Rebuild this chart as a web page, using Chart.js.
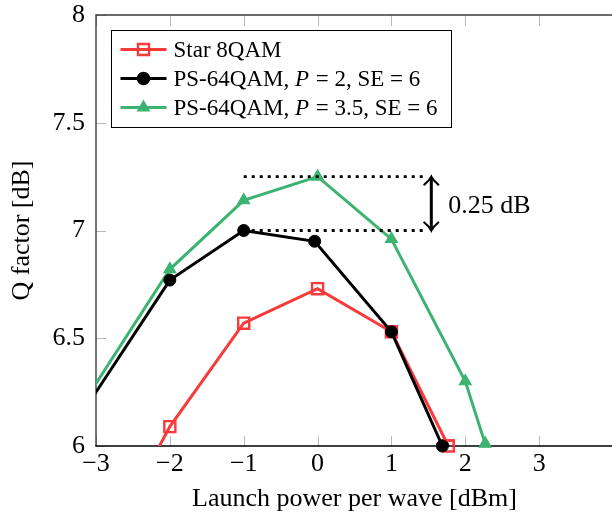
<!DOCTYPE html>
<html>
<head>
<meta charset="utf-8">
<script src="https://cdn.jsdelivr.net/npm/chart.js@4.4.1/dist/chart.umd.min.js"></script>
<style>
  html, body { margin: 0; padding: 0; background: #fff; overflow: hidden; }
  #wrap { width: 612px; height: 518px; overflow: hidden; }
  canvas { display: block; }
</style>
</head>
<body>
<div id="wrap"><canvas id="chart" width="640" height="518"></canvas></div>
<script>
// ===== DATA =====
const xTicks = [-3, -2, -1, 0, 1, 2, 3];
const yTicks = [6, 6.5, 7, 7.5, 8];

const seriesNames = ['Star 8QAM', 'PS-64QAM, P = 2, SE = 6', 'PS-64QAM, P = 3.5, SE = 6'];

const starPower = [-3, -2, -1, 0, 1, 1.77];
const starQ     = [5.45, 6.09, 6.57, 6.73, 6.53, 6.0];

const ps2Power  = [-4, -2, -1, -0.04, 1, 1.69];
const ps2Q      = [5.73, 6.77, 7.0, 6.95, 6.53, 6.0];

const ps35Power = [-4, -2, -1, 0, 1, 2, 2.27];
const ps35Q     = [5.76, 6.82, 7.14, 7.25, 6.96, 6.30, 6.01];

// peak-to-peak gap between the two PS-64QAM curves
const gapFrom = -1, gapTo = 1.47, gapArrowX = 1.54;

const SERIF = '"Liberation Serif", "DejaVu Serif", serif';
const RED   = '#f83a3a';
const BLACK = '#000000';
const GREEN = '#3cb371';
const FS = 26;

function pts(xs, ys) { return xs.map((x, i) => ({ x: x, y: ys[i] })); }

// ===== PLUGINS =====
// left/top/bottom axis lines plus pgfplots-like inward ticks
const frame = {
  id: 'frame',
  beforeDatasetsDraw(chart) {
    const { ctx, chartArea: a, scales: { x, y } } = chart;
    ctx.save();
    ctx.strokeStyle = '#b8b8b8';
    ctx.lineWidth = 1;
    ctx.beginPath();
    xTicks.forEach(v => {
      const px = Math.round(x.getPixelForValue(v)) + 0.5;
      ctx.moveTo(px, a.bottom); ctx.lineTo(px, a.bottom - 10);
      ctx.moveTo(px, a.top);    ctx.lineTo(px, a.top + 11);
    });
    yTicks.forEach(v => {
      const py = Math.round(y.getPixelForValue(v)) + 0.5;
      ctx.moveTo(a.left, py); ctx.lineTo(a.left + 10, py);
    });
    ctx.stroke();

    ctx.lineWidth = 1.4;
    ctx.strokeStyle = '#3a3a3a';
    ctx.beginPath();
    ctx.moveTo(a.left, a.bottom);
    ctx.lineTo(a.left, a.top);
    ctx.lineTo(a.right + 5, a.top);
    ctx.stroke();
    ctx.strokeStyle = '#000';
    ctx.beginPath();
    ctx.moveTo(a.left - 0.7, a.bottom);
    ctx.lineTo(a.right + 5, a.bottom);
    ctx.stroke();
    ctx.restore();
  }
};

// markers sitting on the lower axis are not clipped
const edgeMarkers = {
  id: 'edgeMarkers',
  afterDatasetsDraw(chart) {
    const a = chart.chartArea;
    const full = { left: 0, top: 0, right: chart.width, bottom: chart.height };
    const metas = chart.getSortedVisibleDatasetMetas().slice().reverse();
    metas.forEach(meta => {
      meta.data.forEach(pt => {
        if (pt.x >= a.left && pt.x <= a.right && Math.abs(pt.y - a.bottom) < 9) {
          pt.draw(chart.ctx, full);
        }
      });
    });
  }
};

// dotted peak levels with the double arrow and its label
const gapNote = {
  id: 'gapNote',
  afterDatasetsDraw(chart) {
    const { ctx, scales: { x, y } } = chart;
    const lo = Math.max(...ps2Q), hi = Math.max(...ps35Q);
    const x0 = x.getPixelForValue(gapFrom), x1 = x.getPixelForValue(gapTo);
    const yHi = y.getPixelForValue(hi), yLo = y.getPixelForValue(lo);
    const ax = x.getPixelForValue(gapArrowX);

    ctx.save();
    ctx.strokeStyle = '#000';
    ctx.lineWidth = 2.8;
    ctx.setLineDash([3, 5]);
    [yHi, yLo].forEach(py => {
      ctx.beginPath(); ctx.moveTo(x0, py); ctx.lineTo(x1, py); ctx.stroke();
    });
    ctx.setLineDash([]);

    ctx.lineWidth = 3;
    ctx.beginPath(); ctx.moveTo(ax, yHi + 1); ctx.lineTo(ax, yLo - 1); ctx.stroke();
    ctx.lineWidth = 2.2;
    ctx.lineCap = 'round';
    ctx.beginPath();
    ctx.moveTo(ax - 7, yHi + 8); ctx.quadraticCurveTo(ax - 2, yHi + 4, ax, yHi);
    ctx.quadraticCurveTo(ax + 2, yHi + 4, ax + 7, yHi + 8);
    ctx.moveTo(ax - 7, yLo - 8); ctx.quadraticCurveTo(ax - 2, yLo - 4, ax, yLo);
    ctx.quadraticCurveTo(ax + 2, yLo - 4, ax + 7, yLo - 8);
    ctx.stroke();

    ctx.fillStyle = '#000';
    ctx.font = FS + 'px ' + SERIF;
    ctx.textBaseline = 'alphabetic';
    ctx.textAlign = 'left';
    ctx.fillText((hi - lo).toFixed(2) + ' dB', ax + 17, (yHi + yLo) / 2 + 9);
    ctx.restore();
  }
};

function drawMarker(ctx, style, cx, cy, color) {
  ctx.save();
  ctx.strokeStyle = color;
  ctx.fillStyle = color;
  ctx.lineWidth = style === 'rect' ? 2.4 : 1.5;
  ctx.beginPath();
  if (style === 'rect') {
    ctx.rect(cx - 5.5, cy - 5.5, 11, 11);
    ctx.stroke();
  } else if (style === 'circle') {
    ctx.arc(cx, cy, 6, 0, Math.PI * 2);
    ctx.fill(); ctx.stroke();
  } else {
    const r = 6.5;
    ctx.moveTo(cx, cy - r);
    ctx.lineTo(cx + r * Math.cos(Math.PI / 6), cy + r / 2);
    ctx.lineTo(cx - r * Math.cos(Math.PI / 6), cy + r / 2);
    ctx.closePath();
    ctx.fill(); ctx.stroke();
  }
  ctx.restore();
}

// boxed legend, the P symbol set in italics
const boxLegend = {
  id: 'boxLegend',
  afterDraw(chart) {
    const ctx = chart.ctx;
    const bx = 111.5, by = 30.5, bw = 340, bh = 97;
    ctx.save();
    ctx.fillStyle = '#fff';
    ctx.fillRect(bx, by, bw, bh);
    ctx.strokeStyle = '#000';
    ctx.lineWidth = 1;
    ctx.strokeRect(bx, by, bw, bh);

    chart.data.datasets.forEach((ds, i) => {
      const cy = by + 19 + i * 29;
      ctx.strokeStyle = ds.borderColor;
      ctx.lineWidth = 3;
      ctx.beginPath(); ctx.moveTo(bx + 9, cy); ctx.lineTo(bx + 55, cy); ctx.stroke();
      drawMarker(ctx, ds.pointStyle, bx + 32, cy, ds.borderColor);

      let tx = bx + 62;
      ctx.fillStyle = '#000';
      ctx.textBaseline = 'middle';
      ds.label.split(/(\bP\b)/).forEach(part => {
        if (!part) return;
        ctx.font = (part === 'P' ? 'italic ' : '') + '23px ' + SERIF;
        ctx.fillText(part, tx, cy + 1);
        tx += ctx.measureText(part).width + (part === 'P' ? 1 : 0);
      });
    });
    ctx.restore();
  }
};

// ===== CHART =====
const fmtTick = v => (v < 0 ? '\u2212' + (-v) : String(v));

new Chart(document.getElementById('chart'), {
  type: 'line',
  data: {
    datasets: [
      {
        label: seriesNames[0], data: pts(starPower, starQ), order: 1,
        borderColor: RED, borderWidth: 3, tension: 0,
        pointStyle: 'rect', pointRadius: 7.8, pointBorderWidth: 2.4,
        pointBackgroundColor: 'rgba(0,0,0,0)', pointBorderColor: RED
      },
      {
        label: seriesNames[1], data: pts(ps2Power, ps2Q), order: 0,
        borderColor: BLACK, borderWidth: 3, tension: 0,
        pointStyle: 'circle', pointRadius: 6, pointBorderWidth: 1,
        pointBackgroundColor: BLACK, pointBorderColor: BLACK
      },
      {
        label: seriesNames[2], data: pts(ps35Power, ps35Q), order: 2,
        borderColor: GREEN, borderWidth: 3, tension: 0,
        pointStyle: 'triangle', pointRadius: 6.8, pointBorderWidth: 1.2,
        pointBackgroundColor: GREEN, pointBorderColor: GREEN
      }
    ]
  },
  options: {
    responsive: false,
    animation: false,
    events: [],
    layout: { padding: { top: 15, right: 27, left: 0, bottom: 0 } },
    plugins: { legend: { display: false }, tooltip: { enabled: false } },
    scales: {
      x: {
        type: 'linear', min: -3, max: 4,
        grid: { display: false, drawTicks: false },
        border: { display: false },
        afterBuildTicks: s => { s.ticks = xTicks.map(v => ({ value: v })); },
        afterFit: s => { s.height = 72; s.paddingLeft = 0; s.paddingRight = 0; },
        ticks: {
          color: '#000', padding: 3, maxRotation: 0, autoSkip: false,
          font: { family: SERIF, size: FS }, callback: fmtTick
        },
        title: {
          display: true, text: 'Launch power per wave [dBm]', color: '#000',
          font: { family: SERIF, size: FS }, padding: { top: 0, bottom: 3 }
        }
      },
      y: {
        type: 'linear', min: 6, max: 8,
        grid: { display: false, drawTicks: false },
        border: { display: false },
        afterBuildTicks: s => { s.ticks = yTicks.map(v => ({ value: v })); },
        afterFit: s => { s.width = 96; s.paddingTop = 0; s.paddingBottom = 0; },
        ticks: {
          color: '#000', padding: 11, autoSkip: false,
          font: { family: SERIF, size: FS }, callback: fmtTick
        },
        title: {
          display: true, text: 'Q factor [dB]', color: '#000',
          font: { family: SERIF, size: FS }, padding: { top: 7, bottom: 0 }
        }
      }
    }
  },
  plugins: [frame, edgeMarkers, gapNote, boxLegend]
});
</script>
</body>
</html>
